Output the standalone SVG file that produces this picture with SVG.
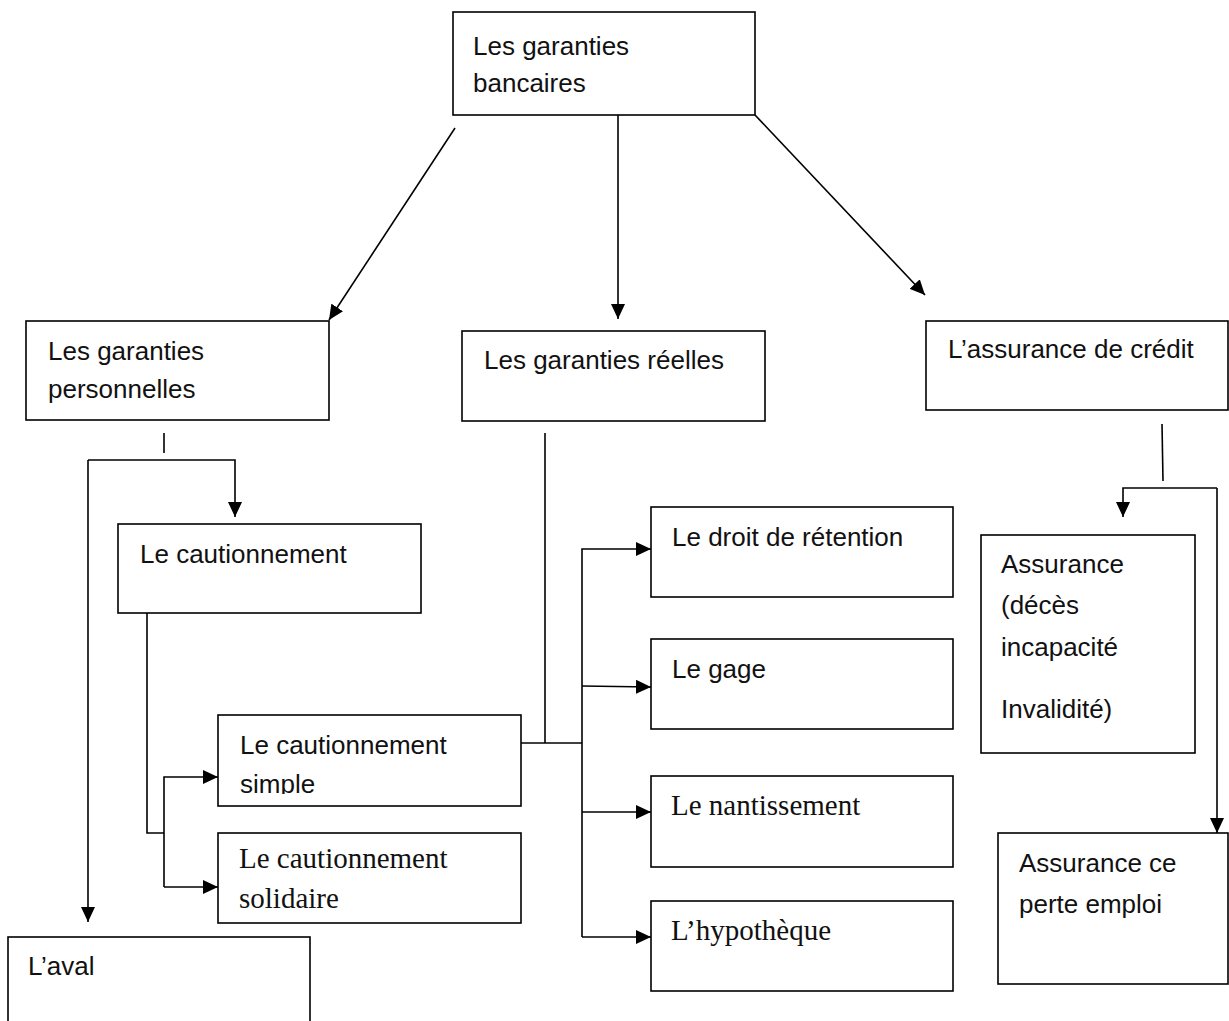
<svg xmlns="http://www.w3.org/2000/svg" width="1229" height="1021" viewBox="0 0 1229 1021">
<style>
.box{fill:#fff;stroke:#000;stroke-width:1.6}
.s{font-family:"Liberation Sans","Open Sans",sans-serif;font-size:26px;fill:#111}
.t{font-family:"Liberation Serif","Times New Roman",serif;font-size:29px;fill:#111}
.c{fill:none;stroke:#000;stroke-width:1.6}
</style>
<defs>
<marker id="ah" markerUnits="userSpaceOnUse" markerWidth="16" markerHeight="14" refX="15" refY="7" orient="auto">
<path d="M0,0 L15,7 L0,14 z" fill="#000"/>
</marker>
<clipPath id="clipSimple"><rect x="218" y="715" width="303" height="79"/></clipPath>
</defs>
<rect width="1229" height="1021" fill="#fff"/>
<g id="connectors">
<path class="c" d="M455,128 L329,320" marker-end="url(#ah)"/>
<path class="c" d="M618,115 V319" marker-end="url(#ah)"/>
<path class="c" d="M755,115 L925,295" marker-end="url(#ah)"/>
<path class="c" d="M164,433 V453"/>
<path class="c" d="M88,460 V922" marker-end="url(#ah)"/>
<path class="c" d="M88,460 H235 V517" marker-end="url(#ah)"/>
<path class="c" d="M147,613 V833 H164"/>
<path class="c" d="M164,887 V777 H218" marker-end="url(#ah)"/>
<path class="c" d="M164,887 H218" marker-end="url(#ah)"/>
<path class="c" d="M545,433 V743"/>
<path class="c" d="M521,743 H582"/>
<path class="c" d="M582,937 V549 H651" marker-end="url(#ah)"/>
<path class="c" d="M582,686 L651,687" marker-end="url(#ah)"/>
<path class="c" d="M582,812 H651" marker-end="url(#ah)"/>
<path class="c" d="M582,937 H651" marker-end="url(#ah)"/>
<path class="c" d="M1162,424 L1163,481"/>
<path class="c" d="M1217,488 H1123 V517" marker-end="url(#ah)"/>
<path class="c" d="M1217,488 V833" marker-end="url(#ah)"/>
</g>
<g id="n-bancaires">
<rect class="box" x="453" y="12" width="302" height="103"/>
<text class="s" x="473" y="55">Les garanties</text>
<text class="s" x="473" y="92">bancaires</text>
</g>
<g id="n-personnelles">
<rect class="box" x="26" y="321" width="303" height="99"/>
<text class="s" x="48" y="360">Les garanties</text>
<text class="s" x="48" y="398">personnelles</text>
</g>
<g id="n-reelles">
<rect class="box" x="462" y="331" width="303" height="90"/>
<text class="s" x="484" y="369">Les garanties réelles</text>
</g>
<g id="n-assurance-credit">
<rect class="box" x="926" y="321" width="302" height="89"/>
<text class="s" x="948" y="358">L’assurance de crédit</text>
</g>
<g id="n-cautionnement">
<rect class="box" x="118" y="524" width="303" height="89"/>
<text class="s" x="140" y="563">Le cautionnement</text>
</g>
<g id="n-simple">
<rect class="box" x="218" y="715" width="303" height="91"/>
<text class="s" x="240" y="754">Le cautionnement</text>
<text class="s" x="240" y="793" clip-path="url(#clipSimple)">simple</text>
</g>
<g id="n-solidaire">
<rect class="box" x="218" y="833" width="303" height="90"/>
<text class="t" x="239" y="868">Le cautionnement</text>
<text class="t" x="239" y="908">solidaire</text>
</g>
<g id="n-aval">
<rect class="box" x="8" y="937" width="302" height="100"/>
<text class="s" x="28" y="975">L’aval</text>
</g>
<g id="n-retention">
<rect class="box" x="651" y="507" width="302" height="90"/>
<text class="s" x="672" y="546">Le droit de rétention</text>
</g>
<g id="n-gage">
<rect class="box" x="651" y="639" width="302" height="90"/>
<text class="s" x="672" y="678">Le gage</text>
</g>
<g id="n-nantissement">
<rect class="box" x="651" y="776" width="302" height="91"/>
<text class="t" x="671" y="815">Le nantissement</text>
</g>
<g id="n-hypotheque">
<rect class="box" x="651" y="901" width="302" height="90"/>
<text class="t" x="671" y="940">L’hypothèque</text>
</g>
<g id="n-assurance-deces">
<rect class="box" x="981" y="535" width="214" height="218"/>
<text class="s" x="1001" y="573">Assurance</text>
<text class="s" x="1001" y="614">(décès</text>
<text class="s" x="1001" y="656">incapacité</text>
<text class="s" x="1001" y="718">Invalidité)</text>
</g>
<g id="n-perte-emploi">
<rect class="box" x="998" y="833" width="230" height="151"/>
<text class="s" x="1019" y="872">Assurance ce</text>
<text class="s" x="1019" y="913">perte emploi</text>
</g>
</svg>
